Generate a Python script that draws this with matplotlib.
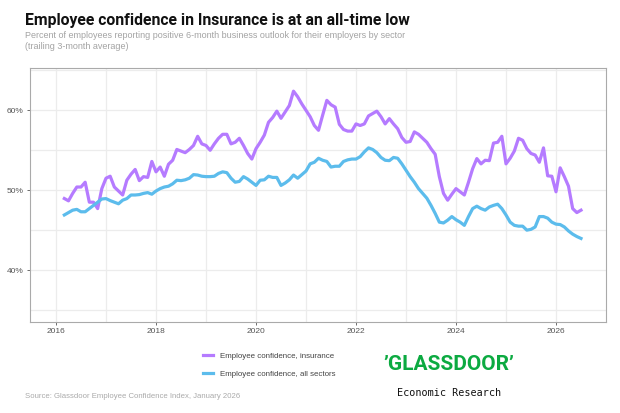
import matplotlib
matplotlib.use("Agg")
import matplotlib.pyplot as plt
import numpy as np
from matplotlib.ticker import FixedLocator, FuncFormatter

plt.rcParams["font.family"] = ["Liberation Sans", "DejaVu Sans"]

# monthly points, March 2016 .. June 2026
start_year = 2016 + 2 / 12
insurance = [
    48.96, 48.67, 49.6, 50.4, 50.4, 51.0, 48.5, 48.5, 47.7, 50.2,
    51.5, 51.75, 50.4, 49.9, 49.4, 51.25, 52.0, 52.6, 51.2, 51.7,
    51.6, 53.6, 52.3, 52.9, 51.75, 53.25, 53.75, 55.1, 54.9, 54.7,
    55.1, 55.6, 56.75, 55.8, 55.6, 55.0, 55.8, 56.5, 57.0, 57.0,
    55.8, 56.0, 56.5, 55.6, 54.6, 53.9, 55.2,
    56.0, 56.9, 58.5, 59.1, 59.9, 59.0, 59.8, 60.6, 62.4, 61.7,
    60.8, 60.0, 59.2, 58.1, 57.5, 59.4, 61.25, 60.7, 60.4, 58.25,
    57.6, 57.4, 57.4, 58.3, 58.1, 58.3, 59.3, 59.6, 59.9, 59.2,
    58.3, 58.96, 58.3, 57.7, 56.6, 56.0, 56.1, 57.3, 57.0, 56.5,
    56.0, 55.2, 54.5, 51.7, 49.6, 48.75, 49.5, 50.2,
    49.8, 49.4, 51.0, 52.7, 53.96, 53.3, 53.75, 53.7, 55.9, 56.0,
    56.75, 53.3, 54.0, 54.9, 56.5, 56.25, 55.2, 54.6, 54.4, 53.5,
    55.3, 51.8, 51.75, 49.8, 52.8, 51.7, 50.5, 47.7, 47.2, 47.5,
]
all_sectors = [
    46.9, 47.2, 47.5, 47.6, 47.3, 47.3, 47.7, 48.1, 48.5, 48.9,
    48.95, 48.7, 48.5, 48.3, 48.75, 48.95, 49.4, 49.4, 49.45, 49.6,
    49.7, 49.5, 49.9, 50.2, 50.4, 50.5, 50.8, 51.25, 51.2, 51.3,
    51.5, 51.95, 51.9, 51.75, 51.7, 51.7, 51.75, 52.1, 52.3, 52.2,
    51.5, 51.0, 51.1, 51.7, 51.4, 51.0, 50.6,
    51.25, 51.3, 51.75, 51.6, 51.6, 50.6, 50.9, 51.3, 51.9, 51.5,
    51.95, 52.4, 53.3, 53.5, 54.0, 53.75, 53.6, 52.9, 53.0, 53.0,
    53.6, 53.8, 53.9, 53.9, 54.2, 54.8, 55.3, 55.1, 54.7, 54.1,
    53.75, 53.7, 54.1, 54.0, 53.3, 52.5, 51.7, 51.0, 50.2, 49.6,
    49.0, 48.1, 47.1, 46.0, 45.9, 46.25, 46.7, 46.3,
    46.0, 45.6, 46.7, 47.7, 48.0, 47.7, 47.5, 47.9, 48.1, 48.25,
    47.7, 46.9, 46.0, 45.6, 45.5, 45.5, 45.0, 45.1, 45.4, 46.7,
    46.7, 46.5, 46.0, 45.75, 45.7, 45.4, 44.9, 44.5, 44.2, 43.96,
]
years = start_year + np.arange(len(insurance)) / 12

fig = plt.figure(figsize=(6.2, 4.13), dpi=100)
ax = fig.add_axes([30 / 620, 1 - 322 / 413, 576 / 620, 254 / 413])

ax.plot(years, insurance, color="#b57bff", lw=2.3, solid_joinstyle="round",
        label="Employee confidence, insurance")
ax.plot(years, all_sectors, color="#5cbcec", lw=2.3, solid_joinstyle="round",
        label="Employee confidence, all sectors")

ax.set_xlim(2015.48, 2027.0)
ax.set_ylim(33.5, 65.3)
ax.xaxis.set_major_locator(FixedLocator([2016, 2018, 2020, 2022, 2024, 2026]))
ax.xaxis.set_minor_locator(FixedLocator([2017, 2019, 2021, 2023, 2025]))
ax.yaxis.set_major_locator(FixedLocator([40, 50, 60]))
ax.yaxis.set_minor_locator(FixedLocator([35, 45, 55, 65]))
ax.xaxis.set_major_formatter(FuncFormatter(lambda v, p: f"{int(v)}"))
ax.yaxis.set_major_formatter(FuncFormatter(lambda v, p: f"{int(v)}%"))
ax.grid(True, which="both", color="#ececec", lw=0.9)
ax.set_axisbelow(True)
ax.tick_params(which="major", length=2.5, width=0.6, color="#555555",
               labelsize=6, labelcolor="#555555", pad=2)
ax.tick_params(which="minor", length=0)
for s in ax.spines.values():
    s.set_color("#aaaaaa")
    s.set_linewidth(0.8)

fig.text(25 / 620, 1 - 21 / 413, "Employee confidence in Insurance is at an all-time low",
         fontsize=11.3, fontweight="bold", color="#111111", va="center", ha="left",
         family=["Roboto", "Liberation Sans"])
fig.text(25 / 620, 1 - 41 / 413,
         "Percent of employees reporting positive 6-month business outlook for their employers by sector\n(trailing 3-month average)",
         fontsize=6.5, color="#a3a3a3", va="center", ha="left", linespacing=1.2)

leg = fig.legend(loc="center left", bbox_to_anchor=(196 / 620, 1 - 365 / 413),
                 frameon=False, fontsize=5.7, handlelength=1.2, labelspacing=1.3,
                 handletextpad=0.9)
for t in leg.get_texts():
    t.set_color("#444444")

fig.text(25 / 620, 1 - 397 / 413, "Source: Glassdoor Employee Confidence Index, January 2026",
         fontsize=5.6, color="#aaaaaa", va="center", ha="left")

fig.text(449 / 620, 1 - 365 / 413, "\u2019GLASSDOOR\u2019", fontsize=15, fontweight="bold",
         color="#0caa41", va="center", ha="center", family=["Roboto", "DejaVu Sans"])
fig.text(449 / 620, 1 - 393 / 413, "Economic Research", fontsize=7.3,
         family="DejaVu Sans Mono", color="#111111", va="center", ha="center")

fig.savefig("out.png", dpi=100)
